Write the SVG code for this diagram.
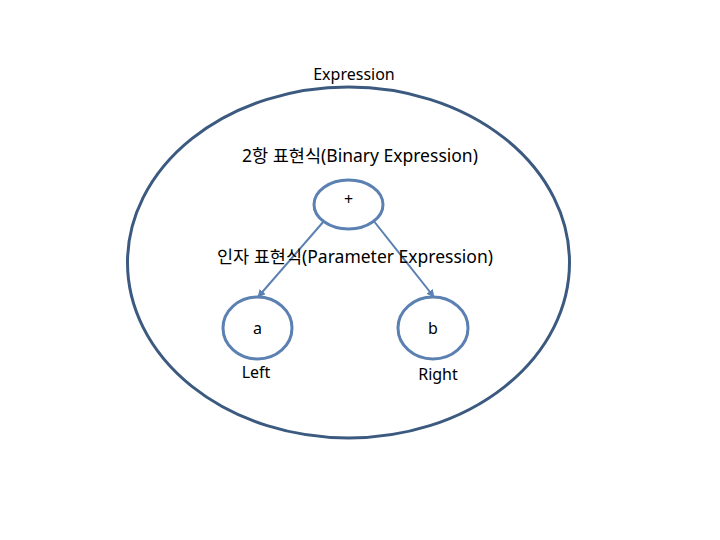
<svg xmlns="http://www.w3.org/2000/svg" width="720" height="540" viewBox="0 0 720 540">
<style>
text{font-family:"Noto Sans","Noto Sans CJK KR",sans-serif;font-size:16px;fill:#000;text-anchor:middle}
.k{font-size:17.5px}
.n{fill:#fff;stroke:#5b80b2;stroke-width:3}
.c{stroke:#5b80b2;stroke-width:2;fill:none}
</style>
<defs>
<marker id="ah" viewBox="0 0 10 10" refX="9" refY="5" markerWidth="4" markerHeight="4" orient="auto">
<path d="M0,0 L10,5 L0,10 z" fill="#5b80b2"/>
</marker>
</defs>
<rect width="720" height="540" fill="#fff"/>
<g id="outer">
<ellipse cx="348.5" cy="262.5" rx="221" ry="175.5" fill="none" stroke="#3c5a80" stroke-width="3"/>
<text x="354" y="80">Expression</text>
</g>
<g id="connectors">
<line class="c" x1="324" y1="221" x2="258" y2="297" marker-end="url(#ah)"/>
<line class="c" x1="373" y1="220" x2="434" y2="297" marker-end="url(#ah)"/>
</g>
<g id="binary">
<text class="k" x="360" y="162">2항 표현식(Binary Expression)</text>
<ellipse class="n" cx="348.5" cy="204.5" rx="34.5" ry="24.5"/>
<text x="348.5" y="205">+</text>
</g>
<text class="k" x="355" y="263">인자 표현식(Parameter Expression)</text>
<g id="left">
<ellipse class="n" cx="257.5" cy="328" rx="34.5" ry="31"/>
<text x="257.5" y="334">a</text>
<text x="256" y="378">Left</text>
</g>
<g id="right">
<ellipse class="n" cx="433" cy="328" rx="35" ry="31"/>
<text x="433" y="334">b</text>
<text x="438" y="380">Right</text>
</g>
</svg>
